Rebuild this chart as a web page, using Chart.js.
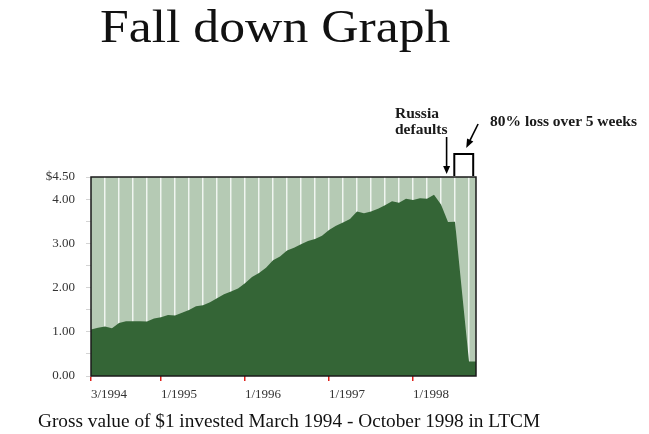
<!DOCTYPE html>
<html>
<head>
<meta charset="utf-8">
<script src="https://cdn.jsdelivr.net/npm/chart.js@4/dist/chart.umd.min.js"></script>
<style>
  html, body { margin: 0; padding: 0; background: #fff; }
  #wrap { position: relative; width: 649px; height: 434px; overflow: hidden; }
  #chart { position: absolute; left: 0; top: 0; }
  .txt { position: absolute; font-family: "Liberation Serif", "DejaVu Serif", serif; color: #111; white-space: nowrap; transform-origin: left top; }
  #title { left: 100px; top: -1px; font-size: 47px; transform: scaleX(1.1); }
  #caption { left: 38px; top: 410px; font-size: 19.3px; }
  .note { font-weight: bold; font-size: 15.5px; line-height: 16px; color: #1a1a1a; }
</style>
</head>
<body>
<div id="wrap">
  <canvas id="chart" width="649" height="434"></canvas>
  <div class="txt" id="title">Fall down Graph</div>
  <div class="txt note" style="left:395px; top:105px;">Russia<br>defaults</div>
  <div class="txt note" style="left:490px; top:113px;">80% loss over 5 weeks</div>
  <div class="txt" id="caption">Gross value of $1 invested March 1994 - October 1998 in LTCM</div>
</div>
<script>
// month labels, March 1994 .. October 1998
const months = [];
for (let y = 1994; y <= 1998; y++) {
    for (let m = 1; m <= 12; m++) {
        if (y === 1994 && m < 3) continue;
        if (y === 1998 && m > 10) continue;
        months.push(m + '/' + y);
    }
}

// gross value of $1
const grossValue = [
    1.05, 1.09, 1.12, 1.08, 1.20, 1.24, 1.24, 1.24, 1.23, 1.30,   // 3/94 - 12/94
    1.33, 1.38, 1.37, 1.43, 1.49, 1.58, 1.60, 1.67, 1.76, 1.85, 1.91, 1.98, // 1995
    2.10, 2.24, 2.33, 2.45, 2.62, 2.70, 2.84, 2.90, 2.98, 3.05, 3.10, 3.17, // 1996
    3.30, 3.40, 3.47, 3.55, 3.72, 3.68, 3.72, 3.78, 3.86, 3.95, 3.92, 4.01, // 1997
    3.98, 4.02, 4.01, 4.10, 3.88, 3.48, 3.49, 1.90, 0.33, 0.33              // 1998
];

const xTickLabels = ['3/1994', '1/1995', '1/1996', '1/1997', '1/1998'];
const yTickLabels = { 0: '0.00', 1: '1.00', 2: '2.00', 3: '3.00', 4: '4.00', 4.5: '$4.50' };

const sage = 'rgb(181, 202, 180)';
const darkGreen = 'rgb(52, 101, 54)';

function isLabelled(i) {
    return xTickLabels.indexOf(months[i]) >= 0;
}

// plot background, frame and the annotation arrows
const decorations = {
    id: 'decorations',
    beforeDraw(chart) {
        const a = chart.chartArea, ctx = chart.ctx;
        ctx.save();
        ctx.fillStyle = sage;
        ctx.fillRect(a.left, a.top, a.right - a.left, a.bottom - a.top);
        ctx.restore();
    },
    afterDraw(chart) {
        const a = chart.chartArea, ctx = chart.ctx;
        const x = chart.scales.x;
        ctx.save();
        ctx.strokeStyle = '#1a1a1a';
        ctx.lineWidth = 1.5;
        ctx.strokeRect(a.left, a.top, a.right - a.left, a.bottom - a.top);

        ctx.strokeStyle = '#000';
        ctx.fillStyle = '#000';
        ctx.lineWidth = 1.6;
        // Russia defaults arrow
        const ax = x.getPixelForValue(50.8);
        ctx.beginPath();
        ctx.moveTo(ax, a.top - 40);
        ctx.lineTo(ax, a.top - 8);
        ctx.stroke();
        ctx.beginPath();
        ctx.moveTo(ax, a.top - 3);
        ctx.lineTo(ax - 3.5, a.top - 11);
        ctx.lineTo(ax + 3.5, a.top - 11);
        ctx.closePath();
        ctx.fill();

        // 5 week bracket
        const b0 = x.getPixelForValue(51.9), b1 = x.getPixelForValue(54.6);
        ctx.lineWidth = 2;
        ctx.beginPath();
        ctx.moveTo(b0, a.top - 1);
        ctx.lineTo(b0, a.top - 23);
        ctx.lineTo(b1, a.top - 23);
        ctx.lineTo(b1, a.top - 1);
        ctx.stroke();

        // diagonal arrow to the bracket
        const sx = x.getPixelForValue(55.3), sy = a.top - 53;
        const ex = x.getPixelForValue(53.6), ey = a.top - 29;
        const ang = Math.atan2(ey - sy, ex - sx);
        ctx.lineWidth = 1.6;
        ctx.beginPath();
        ctx.moveTo(sx, sy);
        ctx.lineTo(ex - 6 * Math.cos(ang), ey - 6 * Math.sin(ang));
        ctx.stroke();
        ctx.beginPath();
        ctx.moveTo(ex, ey);
        ctx.lineTo(ex - 9 * Math.cos(ang) + 3.5 * Math.sin(ang), ey - 9 * Math.sin(ang) - 3.5 * Math.cos(ang));
        ctx.lineTo(ex - 9 * Math.cos(ang) - 3.5 * Math.sin(ang), ey - 9 * Math.sin(ang) + 3.5 * Math.cos(ang));
        ctx.closePath();
        ctx.fill();
        ctx.restore();
    }
};

const tickFont = { family: '"Liberation Serif", serif', size: 13 };

new Chart(document.getElementById('chart').getContext('2d'), {
    type: 'line',
    data: {
        labels: months,
        datasets: [{
            label: 'Gross value',
            data: grossValue,
            fill: 'origin',
            backgroundColor: darkGreen,
            borderWidth: 0,
            pointRadius: 0,
            tension: 0,
        }],
    },
    options: {
        responsive: false,
        animation: false,
        layout: { padding: { left: 0, top: 177, right: 173, bottom: 28 } },
        plugins: {
            legend: { display: false },
            tooltip: { enabled: false },
        },
        scales: {
            x: {
                offset: false,
                border: { display: false },
                grid: {
                    color: (c) => (c.index > 0 && c.index % 2 === 0) ? 'rgba(255,255,255,0.8)' : 'rgba(0,0,0,0)',
                    lineWidth: 1.5,
                    tickLength: 5,
                    tickColor: (c) => isLabelled(c.index) ? '#e0201a' : 'rgba(0,0,0,0)',
                    tickWidth: 1.5,
                },
                ticks: {
                    autoSkip: false,
                    maxRotation: 0,
                    align: 'start',
                    padding: 6,
                    color: '#333',
                    font: tickFont,
                    callback: (v, i) => isLabelled(i) ? months[i] : '',
                },
                afterFit: (s) => { s.height = 30; },
            },
            y: {
                min: 0,
                max: 4.5,
                border: { display: false },
                grid: {
                    drawOnChartArea: false,
                    tickLength: 5,
                    tickColor: '#d4d4d4',
                },
                ticks: {
                    stepSize: 0.5,
                    padding: 11,
                    color: '#333',
                    font: tickFont,
                    callback: (v) => yTickLabels[v] !== undefined ? yTickLabels[v] : '',
                },
                afterFit: (s) => { s.width = 91; },
            },
        },
    },
    plugins: [decorations],
});
</script>
</body>
</html>
